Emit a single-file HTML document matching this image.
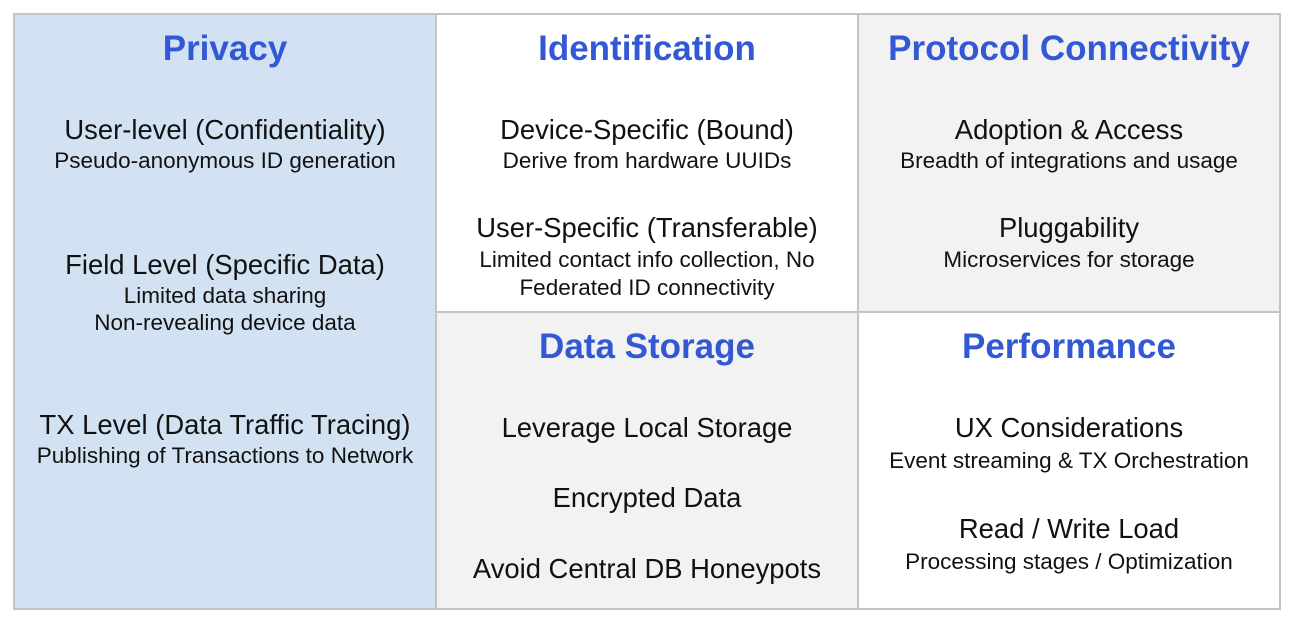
<!DOCTYPE html>
<html><head><meta charset="utf-8"><style>
body{margin:0;width:1298px;height:624px;background:#fff;position:relative;overflow:hidden;font-family:"Liberation Sans",sans-serif;}
.c{position:absolute;box-sizing:border-box;}
.t{position:absolute;text-align:center;white-space:nowrap;color:#111;}
.h{font-weight:bold;font-size:35px;color:#3358d4;height:40px;line-height:40px;}
.m{font-size:27.4px;height:32px;line-height:32px;}
.s{font-size:22.5px;height:28px;line-height:28px;}
</style></head><body>
<div class="c" style="left:13px;top:13px;width:424px;height:597px;background:#d3e2f3;border:2px solid #c4c4c4;"></div>
<div class="c" style="left:435px;top:13px;width:424px;height:300px;background:#fff;border:2px solid #c4c4c4;"></div>
<div class="c" style="left:857px;top:13px;width:424px;height:300px;background:#f2f2f2;border:2px solid #c4c4c4;"></div>
<div class="c" style="left:435px;top:311px;width:424px;height:299px;background:#f2f2f2;border:2px solid #c4c4c4;"></div>
<div class="c" style="left:857px;top:311px;width:424px;height:299px;background:#fff;border:2px solid #c4c4c4;"></div>

<div class="t h" style="left:13px;width:424px;top:29px">Privacy</div>
<div class="t m" style="left:13px;width:424px;top:114px">User-level (Confidentiality)</div>
<div class="t s" style="left:13px;width:424px;top:147px">Pseudo-anonymous ID generation</div>
<div class="t m" style="left:13px;width:424px;top:249px">Field Level (Specific Data)</div>
<div class="t s" style="left:13px;width:424px;top:282px">Limited data sharing</div>
<div class="t s" style="left:13px;width:424px;top:309px">Non-revealing device data</div>
<div class="t m" style="left:13px;width:424px;top:409px">TX Level (Data Traffic Tracing)</div>
<div class="t s" style="left:13px;width:424px;top:442px">Publishing of Transactions to Network</div>

<div class="t h" style="left:435px;width:424px;top:29px">Identification</div>
<div class="t m" style="left:435px;width:424px;top:114px">Device-Specific (Bound)</div>
<div class="t s" style="left:435px;width:424px;top:147px">Derive from hardware UUIDs</div>
<div class="t m" style="left:435px;width:424px;top:212px">User-Specific (Transferable)</div>
<div class="t s" style="left:435px;width:424px;top:246px">Limited contact info collection, No</div>
<div class="t s" style="left:435px;width:424px;top:274px">Federated ID connectivity</div>
<div class="t h" style="left:435px;width:424px;top:327px">Data Storage</div>
<div class="t m" style="left:435px;width:424px;top:412px">Leverage Local Storage</div>
<div class="t m" style="left:435px;width:424px;top:482px">Encrypted Data</div>
<div class="t m" style="left:435px;width:424px;top:553px">Avoid Central DB Honeypots</div>

<div class="t h" style="left:857px;width:424px;top:29px">Protocol Connectivity</div>
<div class="t m" style="left:857px;width:424px;top:114px">Adoption &amp; Access</div>
<div class="t s" style="left:857px;width:424px;top:147px">Breadth of integrations and usage</div>
<div class="t m" style="left:857px;width:424px;top:212px">Pluggability</div>
<div class="t s" style="left:857px;width:424px;top:246px">Microservices for storage</div>
<div class="t h" style="left:857px;width:424px;top:327px">Performance</div>
<div class="t m" style="left:857px;width:424px;top:412px">UX Considerations</div>
<div class="t s" style="left:857px;width:424px;top:447px">Event streaming &amp; TX Orchestration</div>
<div class="t m" style="left:857px;width:424px;top:513px">Read / Write Load</div>
<div class="t s" style="left:857px;width:424px;top:548px">Processing stages / Optimization</div>
</body></html>
